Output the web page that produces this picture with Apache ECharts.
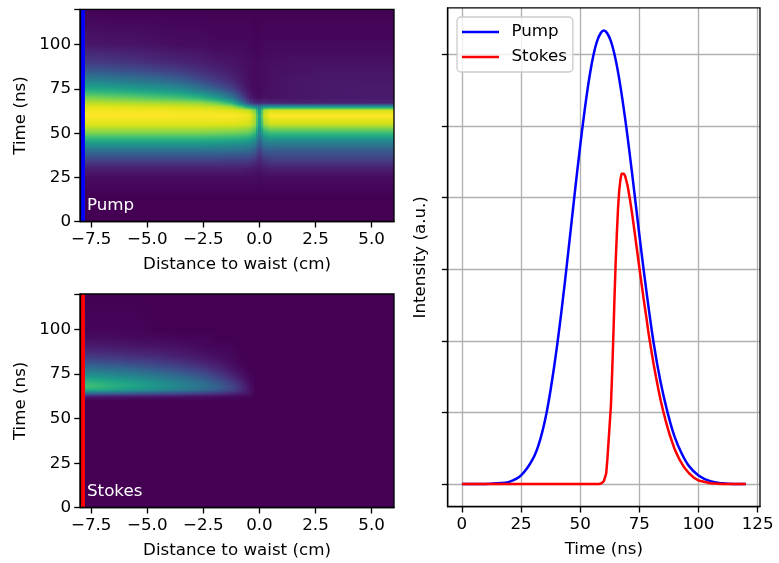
<!DOCTYPE html>
<html>
<head>
<meta charset="utf-8">
<script src="https://cdn.jsdelivr.net/npm/echarts@6/dist/echarts.min.js"></script>
<style>
html,body{margin:0;padding:0;background:#fff;}
#chart{width:779px;height:563px;}
</style>
</head>
<body>
<div id="chart"></div>
<script>
// ---------------- data ----------------
// Heatmap 1 (Pump): colour value (0..1, viridis) read at these times, one profile per x position
const pumpMapTimes = [0, 15, 25, 30, 35, 40, 45, 50, 55, 60, 63, 65, 67, 70, 75, 80, 85, 90, 100, 120];
const pumpMapX = [-7.5, -6.5, -5.5, -4.5, -3.5, -2.6, -1.9, -1.25, -0.8, -0.45, -0.2, 0.0, 0.22, 0.5, 1.1, 2.5, 5.0];
const pumpMap = [
  [0, 0, 0.03, 0.08, 0.2, 0.36, 0.57, 0.8, 0.95, 1.0, 0.98, 0.95, 0.9, 0.8, 0.6, 0.43, 0.28, 0.17, 0.06, 0],
  [0, 0, 0.03, 0.08, 0.2, 0.36, 0.57, 0.8, 0.95, 1.0, 0.98, 0.95, 0.89, 0.78, 0.58, 0.41, 0.26, 0.16, 0.05, 0],
  [0, 0, 0.03, 0.08, 0.2, 0.36, 0.57, 0.8, 0.95, 1.0, 0.98, 0.94, 0.88, 0.76, 0.55, 0.38, 0.24, 0.14, 0.05, 0],
  [0, 0, 0.03, 0.08, 0.2, 0.36, 0.57, 0.8, 0.95, 1.0, 0.98, 0.94, 0.87, 0.73, 0.52, 0.35, 0.21, 0.12, 0.04, 0],
  [0, 0, 0.03, 0.08, 0.2, 0.36, 0.57, 0.8, 0.95, 1.0, 0.97, 0.93, 0.86, 0.7, 0.47, 0.3, 0.18, 0.1, 0.03, 0],
  [0, 0, 0.03, 0.08, 0.2, 0.36, 0.57, 0.8, 0.95, 1.0, 0.97, 0.92, 0.84, 0.64, 0.38, 0.22, 0.13, 0.08, 0.03, 0],
  [0, 0, 0.03, 0.08, 0.2, 0.36, 0.56, 0.79, 0.95, 1.0, 0.96, 0.9, 0.78, 0.55, 0.29, 0.16, 0.1, 0.06, 0.02, 0],
  [0, 0, 0.03, 0.08, 0.19, 0.35, 0.55, 0.78, 0.95, 1.0, 0.95, 0.86, 0.65, 0.4, 0.2, 0.11, 0.07, 0.05, 0.02, 0],
  [0, 0, 0.03, 0.08, 0.19, 0.34, 0.54, 0.77, 0.94, 0.99, 0.93, 0.72, 0.42, 0.22, 0.1, 0.06, 0.05, 0.04, 0.02, 0],
  [0, 0, 0.03, 0.07, 0.18, 0.33, 0.52, 0.75, 0.93, 0.98, 0.9, 0.55, 0.2, 0.08, 0.04, 0.03, 0.03, 0.03, 0.02, 0],
  [0, 0, 0.03, 0.06, 0.15, 0.28, 0.45, 0.68, 0.85, 0.88, 0.8, 0.45, 0.12, 0.04, 0.02, 0.02, 0.02, 0.02, 0.01, 0],
  [0, 0, 0.02, 0.05, 0.1, 0.18, 0.3, 0.42, 0.52, 0.56, 0.5, 0.4, 0.1, 0.03, 0.02, 0.02, 0.02, 0.02, 0.01, 0],
  [0, 0, 0.03, 0.07, 0.15, 0.27, 0.42, 0.62, 0.85, 0.92, 0.88, 0.5, 0.12, 0.04, 0.03, 0.03, 0.03, 0.03, 0.02, 0],
  [0, 0, 0.03, 0.08, 0.18, 0.28, 0.45, 0.68, 0.92, 1.0, 0.94, 0.52, 0.1, 0.04, 0.04, 0.04, 0.04, 0.03, 0.02, 0],
  [0, 0, 0.03, 0.08, 0.18, 0.28, 0.44, 0.68, 0.92, 1.0, 0.93, 0.52, 0.09, 0.05, 0.05, 0.05, 0.04, 0.04, 0.02, 0],
  [0, 0, 0.03, 0.08, 0.18, 0.28, 0.44, 0.68, 0.92, 1.0, 0.93, 0.52, 0.09, 0.06, 0.06, 0.06, 0.05, 0.04, 0.02, 0],
  [0, 0, 0.03, 0.08, 0.18, 0.28, 0.44, 0.68, 0.92, 1.0, 0.93, 0.52, 0.09, 0.07, 0.07, 0.06, 0.05, 0.04, 0.02, 0]
];

// Heatmap 2 (Stokes)
const stokesMapTimes = [0, 60, 62, 63, 64, 66, 68, 70, 72, 75, 78, 81, 85, 90, 95, 100, 120];
const stokesMapX = [-7.5, -6.5, -5.5, -4.5, -3.5, -2.5, -1.75, -1.25, -0.8, -0.45, -0.15];
const stokesMap = [
  [0, 0, 0.05, 0.15, 0.32, 0.61, 0.69, 0.66, 0.59, 0.48, 0.37, 0.27, 0.16, 0.08, 0.03, 0.01, 0],
  [0, 0, 0.05, 0.14, 0.29, 0.56, 0.63, 0.61, 0.55, 0.45, 0.35, 0.25, 0.15, 0.07, 0.03, 0.01, 0],
  [0, 0, 0.04, 0.13, 0.26, 0.51, 0.58, 0.56, 0.5, 0.41, 0.31, 0.22, 0.13, 0.06, 0.02, 0.01, 0],
  [0, 0, 0.04, 0.12, 0.23, 0.46, 0.52, 0.5, 0.45, 0.36, 0.27, 0.19, 0.11, 0.05, 0.02, 0, 0],
  [0, 0, 0.03, 0.1, 0.2, 0.4, 0.45, 0.43, 0.38, 0.3, 0.22, 0.15, 0.08, 0.04, 0.01, 0, 0],
  [0, 0, 0.03, 0.08, 0.17, 0.33, 0.37, 0.35, 0.3, 0.23, 0.16, 0.1, 0.05, 0.02, 0.01, 0, 0],
  [0, 0, 0.02, 0.06, 0.13, 0.26, 0.29, 0.26, 0.21, 0.15, 0.1, 0.06, 0.03, 0.01, 0, 0, 0],
  [0, 0, 0.02, 0.05, 0.1, 0.2, 0.21, 0.18, 0.14, 0.09, 0.05, 0.03, 0.02, 0.01, 0, 0, 0],
  [0, 0, 0.01, 0.03, 0.07, 0.12, 0.12, 0.1, 0.07, 0.04, 0.02, 0.01, 0, 0, 0, 0, 0],
  [0, 0, 0.01, 0.02, 0.04, 0.05, 0.04, 0.03, 0.02, 0.01, 0, 0, 0, 0, 0, 0, 0],
  [0, 0, 0, 0, 0, 0, 0, 0, 0, 0, 0, 0, 0, 0, 0, 0, 0]
];

const sliceX = -7.88;   // position of the plotted slice (vertical line)

// Line plot (right)
const pumpTimes = [0,5,10,15,20,25,30,33,36,39,42,45,48,51,54,57,60,63,66,69,72,75,78,81,84,87,90,93,96,100,105,110,115,120];
const pumpIntensity = [0,0,0,0.01,0.03,0.12,0.35,0.61,1.03,1.64,2.39,3.25,4.15,4.99,5.70,6.17,6.33,6.18,5.75,5.10,4.32,3.48,2.69,1.98,1.42,0.99,0.65,0.42,0.25,0.12,0.04,0.01,0,0];
const stokesTimes = [0,20,40,55,58,59,60,61,61.5,62,62.5,63,63.5,64,64.5,65,65.5,66,66.5,67,67.5,68,68.5,69,70,71,72,73,74,75,76,77,78,79,80,81,82,83,84,85,86,87,88,90,92,94,96,98,100,105,110,120];
const stokesIntensity = [0,0,0,0,0,0.01,0.04,0.15,0.35,0.6,0.85,1.1,1.55,2.05,2.6,3.1,3.5,3.85,4.1,4.25,4.33,4.35,4.33,4.3,4.17,3.98,3.76,3.52,3.27,3.02,2.78,2.54,2.32,2.08,1.88,1.68,1.5,1.33,1.17,1.03,0.9,0.78,0.67,0.48,0.34,0.23,0.15,0.09,0.05,0.01,0,0];

const distTicks = [-7.5, -5, -2.5, 0, 2.5, 5];
const timeTicks = [0, 25, 50, 75, 100, 125];
const intensityTicks = [0, 1, 2, 3, 4, 5, 6];

// ---------------- styling helpers ----------------
const VIRIDIS = ['#440154','#481568','#482677','#453781','#3F4788','#39558C','#32648E','#2D718E','#287D8E','#238A8D','#1F968B','#20A386','#29AF7F','#3CBC75','#56C667','#75D054','#95D840','#BADE28','#DDE318','#FDE725'];
const VRGB = VIRIDIS.map(h => [parseInt(h.substr(1,2),16), parseInt(h.substr(3,2),16), parseInt(h.substr(5,2),16)]);
function viridis(v) {
  v = Math.max(0, Math.min(1, v));
  const p = v * (VRGB.length - 1);
  const i = Math.min(VRGB.length - 2, Math.floor(p));
  const f = p - i;
  const a = VRGB[i], b = VRGB[i + 1];
  return 'rgb(' + [0,1,2].map(k => Math.round(a[k] + (b[k] - a[k]) * f)).join(',') + ')';
}
const FS = 16.7;
const FONT = 'DejaVu Sans';
const LW = 1.33;
const minusFmt = v => (v < 0 ? '\u2212' : '') + Math.abs(v).toFixed(1);

// vertical gradient for one profile (shading between the read samples)
function gradientFor(times, col, tMax) {
  const stops = [];
  const SUB = 6;
  for (let k = 0; k < times.length; k++) {
    if (k === times.length - 1) {
      stops.push({ offset: (tMax - times[k]) / tMax, color: viridis(col[k]) });
      break;
    }
    for (let s = 0; s < SUB; s++) {
      const f = s / SUB;
      stops.push({ offset: (tMax - (times[k] + (times[k + 1] - times[k]) * f)) / tMax,
                   color: viridis(col[k] + (col[k + 1] - col[k]) * f) });
    }
  }
  stops.sort((a, b) => a.offset - b.offset);
  return new echarts.graphic.LinearGradient(0, 0, 0, 1, stops);
}

function heatSeries(idx, xs, times, cols, xMin, xMax, tMax) {
  const segs = [[xMin, xs[0], 0, 0]];
  for (let k = 0; k < xs.length - 1; k++) segs.push([xs[k], xs[k + 1], k, k + 1]);
  segs.push([xs[xs.length - 1], xMax, xs.length - 1, xs.length - 1]);
  return {
    type: 'custom',
    xAxisIndex: idx, yAxisIndex: idx,
    coordinateSystem: 'cartesian2d',
    silent: true, clip: true, z: 1,
    data: segs.map(s => [s[0], s[1], s[2], s[3], 0]),
    encode: { x: [0, 1], y: [4] },
    renderItem: function (params, api) {
      const xa = api.value(0), xb = api.value(1);
      const ka = api.value(2), kb = api.value(3);
      const pa = api.coord([xa, tMax]);
      const pb = api.coord([xb, 0]);
      const y0 = pa[1], h = pb[1] - pa[1];
      const x0 = pa[0], x1 = pb[0];
      const children = [];
      if (ka === kb) {
        const l = Math.floor(x0), r = Math.ceil(x1) + 1;
        children.push({ type: 'rect', shape: { x: l, y: y0, width: r - l, height: h },
          style: { fill: gradientFor(times, cols[ka], tMax) } });
      } else {
        const pStart = Math.floor(x0), pEnd = Math.ceil(x1);
        for (let px = pStart; px < pEnd; px += 2) {
          const cx = Math.min(Math.max(px + 1, x0), x1);
          const f = (cx - x0) / (x1 - x0);
          const col = cols[ka].map((v, m) => v * (1 - f) + cols[kb][m] * f);
          children.push({ type: 'rect', shape: { x: px, y: y0, width: 3, height: h },
            style: { fill: gradientFor(times, col, tMax) } });
        }
      }
      return { type: 'group', children: children };
    }
  };
}

function heatXAxis(idx) {
  return {
    gridIndex: idx, type: 'value', min: -8, max: 6, z: 10,
    axisLine: { show: true, onZero: false, lineStyle: { color: '#000', width: LW } },
    axisTick: { show: true, length: 5.8, customValues: distTicks, lineStyle: { color: '#000', width: LW } },
    axisLabel: { customValues: distTicks, formatter: minusFmt, color: '#000', fontSize: FS, fontFamily: FONT, margin: 9 },
    splitLine: { show: false },
    name: 'Distance to waist (cm)', nameLocation: 'middle', nameGap: 34,
    nameTextStyle: { color: '#000', fontSize: FS, fontFamily: FONT }
  };
}
function heatYAxis(idx) {
  return {
    gridIndex: idx, type: 'value', min: 0, max: 120, interval: 25, z: 10,
    axisLine: { show: true, onZero: false, lineStyle: { color: '#000', width: LW } },
    axisTick: { show: true, length: 5.8, lineStyle: { color: '#000', width: LW } },
    axisLabel: { color: '#000', fontSize: FS, fontFamily: FONT, margin: 9,
      formatter: v => (v > 100 ? '' : String(v)) },
    splitLine: { show: false },
    name: 'Time (ns)', nameLocation: 'middle', nameGap: 51,
    nameTextStyle: { color: '#000', fontSize: FS, fontFamily: FONT }
  };
}

const gridBase = { show: true, borderColor: '#000', borderWidth: LW, backgroundColor: 'transparent', z: 5, containLabel: false };

const option = {
  animation: false,
  textStyle: { fontFamily: FONT },
  grid: [
    Object.assign({ left: 80, top: 9.3, width: 314, height: 212.4 }, gridBase),
    Object.assign({ left: 80, top: 294, width: 314, height: 213.7 }, gridBase),
    Object.assign({ left: 447.7, top: 7.9, width: 312.3, height: 498.8 }, gridBase)
  ],
  xAxis: [
    heatXAxis(0),
    heatXAxis(1),
    {
      gridIndex: 2, type: 'value', min: -6, max: 126,
      axisLine: { show: true, onZero: false, lineStyle: { color: '#000', width: LW } },
      axisTick: { show: true, length: 5.8, customValues: timeTicks, lineStyle: { color: '#000', width: LW } },
      axisLabel: { customValues: timeTicks, color: '#000', fontSize: FS, fontFamily: FONT, margin: 9 },
      splitLine: { show: true, lineStyle: { color: '#b0b0b0', width: LW } },
      name: 'Time (ns)', nameLocation: 'middle', nameGap: 34,
      nameTextStyle: { color: '#000', fontSize: FS, fontFamily: FONT }
    }
  ],
  yAxis: [
    heatYAxis(0),
    heatYAxis(1),
    {
      gridIndex: 2, type: 'value', min: -0.3165, max: 6.6465,
      axisLine: { show: true, onZero: false, lineStyle: { color: '#000', width: LW } },
      axisTick: { show: true, length: 5.8, customValues: intensityTicks, lineStyle: { color: '#000', width: LW } },
      axisLabel: { show: false, customValues: intensityTicks },
      splitLine: { show: true, lineStyle: { color: '#b0b0b0', width: LW } },
      name: 'Intensity (a.u.)', nameLocation: 'middle', nameGap: 19,
      nameTextStyle: { color: '#000', fontSize: FS, fontFamily: FONT }
    }
  ],
  legend: {
    data: ['Pump', 'Stokes'],
    orient: 'vertical', left: 457, top: 17,
    icon: 'rect', itemWidth: 37, itemHeight: 2.5, itemGap: 5,
    formatter: name => '{t|' + name + '}',
    textStyle: { fontSize: FS, fontFamily: FONT, color: '#000', lineHeight: 20,
      rich: { t: { fontSize: FS, fontFamily: FONT, color: '#000', lineHeight: 20, padding: [0, 0, 0, 7.5] } } },
    backgroundColor: 'rgba(255,255,255,0.8)', borderColor: '#cccccc', borderWidth: LW, borderRadius: 4,
    padding: [5, 6, 5, 5]
  },
  graphic: [
    { type: 'text', left: 87, top: 197, z: 100, style: { text: 'Pump', fill: '#fff', font: FS + 'px "DejaVu Sans"' } },
    { type: 'text', left: 87, top: 483, z: 100, style: { text: 'Stokes', fill: '#fff', font: FS + 'px "DejaVu Sans"' } }
  ],
  series: [
    heatSeries(0, pumpMapX, pumpMapTimes, pumpMap, -8, 6, 120),
    heatSeries(1, stokesMapX, stokesMapTimes, stokesMap, -8, 6, 120),
    {
      type: 'line', xAxisIndex: 0, yAxisIndex: 0, symbol: 'none', silent: true, z: 3,
      data: [[sliceX, 0], [sliceX, 120]], lineStyle: { color: '#0000ff', width: 4.5 }
    },
    {
      type: 'line', xAxisIndex: 1, yAxisIndex: 1, symbol: 'none', silent: true, z: 3,
      data: [[sliceX, 0], [sliceX, 120]], lineStyle: { color: '#ff0000', width: 4.5 }
    },
    {
      name: 'Pump', type: 'line', xAxisIndex: 2, yAxisIndex: 2, symbol: 'none', smooth: 0.35,
      data: pumpTimes.map((t, i) => [t, pumpIntensity[i]]),
      itemStyle: { color: '#0000ff' }, lineStyle: { color: '#0000ff', width: 2.5 }
    },
    {
      name: 'Stokes', type: 'line', xAxisIndex: 2, yAxisIndex: 2, symbol: 'none', smooth: false,
      data: stokesTimes.map((t, i) => [t, stokesIntensity[i]]),
      itemStyle: { color: '#ff0000' }, lineStyle: { color: '#ff0000', width: 2.5 }
    }
  ]
};

const chart = echarts.init(document.getElementById('chart'), null, { renderer: 'canvas' });
chart.setOption(option);
</script>
</body>
</html>
